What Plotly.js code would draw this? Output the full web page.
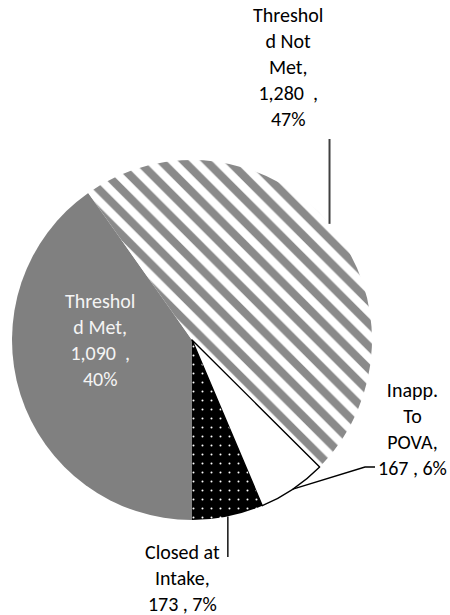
<!DOCTYPE html>
<html><head><meta charset="utf-8">
<script src="https://cdn.plot.ly/plotly-3.0.1.min.js"></script>
<style>html,body{margin:0;padding:0;background:#fff}#chart{width:450px;height:615px}</style>
</head><body><div id="chart"></div>
<script>
// ---- data ----
const categories = ['Threshold Met', 'Threshold Not Met', 'Inapp. To POVA', 'Closed at Intake'];
const values = [1090, 1280, 167, 173];
const percentLabels = ['40%', '47%', '6%', '7%'];
const labelNameLines = [['Threshol', 'd Met,'], ['Threshol', 'd Not', 'Met,'], ['Inapp.', 'To', 'POVA,'], ['Closed at', 'Intake,']];
const pctOnOwnLine = [true, true, false, false];

// ---- layout helpers ----
const W = 450, H = 615;
const cx = 192, cy = 340, R = 180;
const px = x => x / W, py = y => 1 - y / H;
const rotation = 180;
const labelPos = [[100, 340], [288, 67], [412, 429], [182, 578]];
const labelColor = ['#f4f4f4', '#000000', '#000000', '#000000'];
const leaderBends = [null, [[null, 139]], [[365, 467], [375, 467]], [[null, 557]]];
const leaderColor = [null, '#404040', '#000000', '#000000'];
const leaderWidth = [0, 2, 1.4, 1.4];

const total = values.reduce((a, b) => a + b, 0);
let acc = 0; const mids = [];
values.forEach(v => { mids.push(rotation + (acc + v / 2) / total * 360); acc += v; });
function edgePt(i) { const a = mids[i] * Math.PI / 180; return [cx + R * Math.sin(a), cy - R * Math.cos(a)]; }

const fmt = n => n.toLocaleString('en-US');
const annotations = categories.map((c, i) => {
  const lines = labelNameLines[i].slice();
  if (pctOnOwnLine[i]) { lines.push(fmt(values[i]) + '  ,'); lines.push(percentLabels[i]); }
  else lines.push(fmt(values[i]) + ' , ' + percentLabels[i]);
  return {
    xref: 'paper', yref: 'paper', x: px(labelPos[i][0]), y: py(labelPos[i][1]),
    xanchor: 'center', yanchor: 'middle', align: 'center', showarrow: false,
    text: lines.join('<br>'),
    font: { family: 'Carlito, Calibri, Lato, sans-serif', size: 20, color: labelColor[i] }
  };
});

const shapes = [];
categories.forEach((c, i) => {
  if (!leaderBends[i]) return;
  const e = edgePt(i);
  let d = 'M' + px(e[0]) + ',' + py(e[1]);
  leaderBends[i].forEach(p => {
    const x = p[0] === null ? e[0] : p[0];
    d += ' L' + px(x) + ',' + py(p[1]);
  });
  shapes.push({ type: 'path', xref: 'paper', yref: 'paper', path: d,
    line: { color: leaderColor[i], width: leaderWidth[i] } });
});

const trace = {
  type: 'pie', labels: categories, values: values, sort: false,
  direction: 'clockwise', rotation: rotation, textinfo: 'none', hoverinfo: 'label+value+percent',
  domain: { x: [px(cx - R), px(cx + R)], y: [py(cy + R), py(cy - R)] },
  marker: {
    colors: ['#808080', '#ffffff', '#ffffff', '#000000'],
    line: { color: '#000000', width: [0, 0, 1.4, 0] },
    pattern: {
      shape: ['', '\\', '', '.'],
      fgcolor: ['#808080', '#8a8a8a', '#ffffff', '#ffffff'],
      bgcolor: ['#808080', '#ffffff', '#ffffff', '#000000'],
      size: [8, 16, 8, 9],
      solidity: [0.3, 0.5, 0.3, 0.04],
      fillmode: 'replace'
    }
  },
  showlegend: false
};

Plotly.newPlot('chart', [trace], {
  width: W, height: H, margin: { l: 0, r: 0, t: 0, b: 0 },
  paper_bgcolor: '#ffffff', showlegend: false,
  annotations: annotations, shapes: shapes
}, { displayModeBar: false, staticPlot: true });
</script></body></html>
